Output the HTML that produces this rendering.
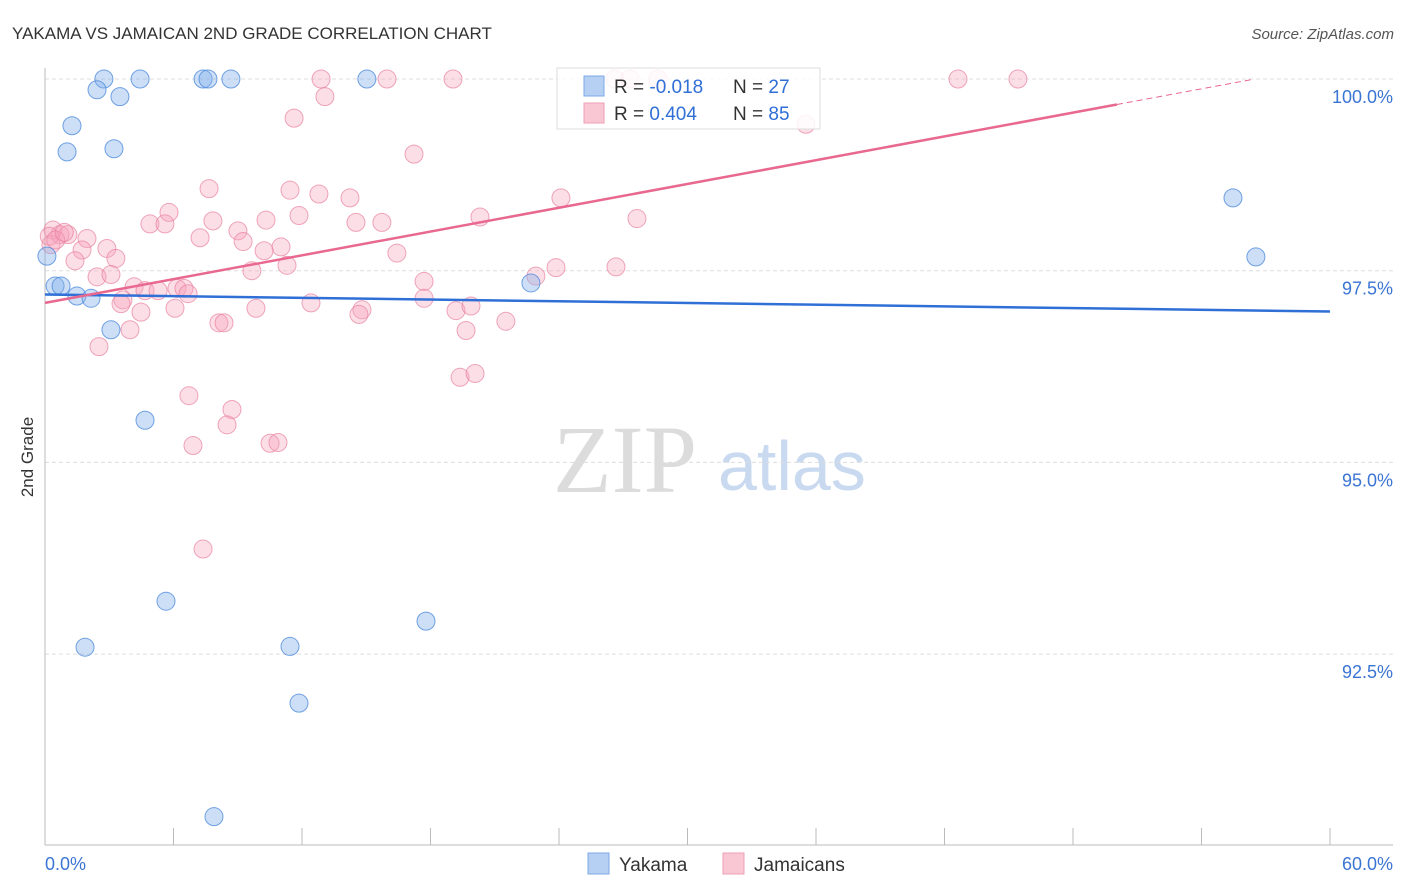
<!DOCTYPE html>
<html><head><meta charset="utf-8"><style>
body{margin:0;background:#fff;font-family:"Liberation Sans",sans-serif;}
#wrap{position:relative;width:1406px;height:892px;overflow:hidden;}
</style></head><body>
<div id="wrap">
<svg id="chart" width="1406" height="892" xmlns="http://www.w3.org/2000/svg">
<text x="12" y="39" font-size="17" fill="#333">YAKAMA VS JAMAICAN 2ND GRADE CORRELATION CHART</text>
<text x="1394" y="39" font-size="15" fill="#555" font-style="italic" text-anchor="end">Source: ZipAtlas.com</text>
<text x="33" y="457" font-size="17" fill="#333" text-anchor="middle" transform="rotate(-90 33 457)">2nd Grade</text>
<g>
<text x="553" y="492" font-size="96" font-family="Liberation Serif,serif" fill="#dcdcdc">ZIP</text>
<text x="718" y="490" font-size="70" fill="#c8d9f0">atlas</text>
</g>
<g id="grid"></g><g id="axes"></g><g id="pts"></g><g id="trend"></g>
<g>
<rect x="557" y="68" width="263" height="61" fill="#fff" fill-opacity="0.85" stroke="#ddd"/>
<rect x="584" y="76" width="20" height="20" fill="#b5d0f3" stroke="#7ea9e6"/>
<rect x="584" y="103" width="20" height="20" fill="#f9c6d4" stroke="#ef9fb7"/>
<text x="614" y="93" font-size="19" fill="#333">R = <tspan fill="#2f6fd6">-0.018</tspan></text>
<text x="733" y="93" font-size="19" fill="#333">N = <tspan fill="#2f6fd6">27</tspan></text>
<text x="614" y="120" font-size="19" fill="#333">R = <tspan fill="#2f6fd6"> 0.404</tspan></text>
<text x="733" y="120" font-size="19" fill="#333">N = <tspan fill="#2f6fd6">85</tspan></text>
</g>
<g>
<rect x="588" y="853" width="21" height="21" fill="#b5d0f3" stroke="#7ea9e6"/>
<text x="619" y="871" font-size="19" fill="#333">Yakama</text>
<rect x="723" y="853" width="21" height="21" fill="#f9c6d4" stroke="#ef9fb7"/>
<text x="754" y="871" font-size="19" fill="#333">Jamaicans</text>
</g>
</svg>
</div>
<script>
const yTicks=[100,97.5,95,92.5];
const yTickLabels=["100.0%","97.5%","95.0%","92.5%"];
const xTicks=[0,6,12,18,24,30,36,42,48,54,60];
const xEndLabels=["0.0%","60.0%"];
const yakX=[2.75,4.44,7.38,7.61,8.68,15.03,2.43,3.50,1.26,1.03,3.22,0.09,0.47,0.75,1.49,2.15,3.08,4.67,5.65,1.87,11.44,17.79,11.86,7.89,22.69,55.47,56.54];
const yakY=[100,100,100,100,100,100,99.86,99.77,99.39,99.05,99.09,97.69,97.30,97.30,97.17,97.14,96.73,95.55,93.19,92.59,92.60,92.93,91.86,90.38,97.34,98.45,97.68];
const jamX=[12.89,15.97,19.05,26.61,27.31,28.62,42.63,45.43,13.07,11.63,35.53,17.23,7.66,11.44,12.79,14.24,24.09,5.79,11.86,20.31,27.64,4.90,5.60,7.84,10.32,14.52,15.73,0.37,0.70,1.07,1.96,7.24,9.01,9.25,11.02,0.28,1.73,2.89,10.23,16.43,1.40,3.31,9.66,11.30,2.43,3.08,17.70,22.92,23.86,26.66,4.16,4.67,5.28,6.16,6.49,3.64,3.55,6.68,12.42,9.85,4.48,6.07,14.80,14.66,17.70,19.19,19.89,19.66,21.52,3.97,2.52,8.12,8.36,19.38,20.08,6.72,8.73,8.50,6.91,10.51,10.88,7.38,0.2,0.5,0.9];
const jamY=[100,100,100,100,100,100,100,100,99.77,99.49,99.41,99.02,98.57,98.55,98.50,98.45,98.45,98.26,98.22,98.20,98.18,98.11,98.11,98.15,98.16,98.13,98.13,98.03,97.97,97.97,97.92,97.93,98.02,97.88,97.81,97.84,97.77,97.79,97.76,97.73,97.63,97.66,97.50,97.57,97.42,97.45,97.36,97.43,97.54,97.55,97.29,97.24,97.24,97.27,97.27,97.12,97.07,97.20,97.08,97.01,96.96,97.01,96.99,96.93,97.14,96.98,97.04,96.72,96.84,96.73,96.51,96.82,96.82,96.11,96.16,95.87,95.69,95.49,95.22,95.25,95.26,93.87,97.95,97.9,98.0];
const yakTrend=[97.19,-0.0037];
const jamTrend=[97.08,0.0517];
const jamSolidEnd=50.05;

const NS="http://www.w3.org/2000/svg";
const X0=45,X1=1330,Ytop=79;
function sx(v){return X0+v/60*(X1-X0);}
function sy(v){return Ytop+(100-v)/2.5*191.7;}
function mk(tag,attrs,parent){const e=document.createElementNS(NS,tag);for(const k in attrs)e.setAttribute(k,attrs[k]);parent.appendChild(e);return e;}
const grid=document.getElementById('grid'),axes=document.getElementById('axes'),pts=document.getElementById('pts'),trend=document.getElementById('trend');
yTicks.forEach((t,i)=>{
 const l=mk('line',{x1:X0,x2:1393,y1:sy(t),y2:sy(t),stroke:'#ddd','stroke-dasharray':'4,3'},grid);
 
 
 const tx=mk('text',{x:1393,y:sy(t)+24,'font-size':18,fill:'#3b75d4','text-anchor':'end'},axes);
 tx.textContent=yTickLabels[i];
 
 
});
const ax=mk('line',{x1:X0,x2:X0,y1:68,y2:845,stroke:'#bbb'},axes);


const bx=mk('line',{x1:X0,x2:1393,y1:845,y2:845,stroke:'#bbb'},axes);


xTicks.forEach(t=>{
 const l=mk('line',{x1:sx(t),x2:sx(t),y1:828,y2:845,stroke:'#bbb'},axes);
 
 
});
const xl0=mk('text',{x:45,y:870,'font-size':18,fill:'#3b75d4'},axes);xl0.textContent=xEndLabels[0];


const xl1=mk('text',{x:1393,y:870,'font-size':18,fill:'#3b75d4','text-anchor':'end'},axes);xl1.textContent=xEndLabels[1];


jamX.forEach((x,i)=>{
 const c=mk('circle',{cx:sx(x),cy:sy(jamY[i]),r:9,fill:'rgba(245,160,186,0.35)',stroke:'rgba(232,130,160,0.7)','stroke-width':1},pts);
 
 
});
yakX.forEach((x,i)=>{
 const c=mk('circle',{cx:sx(x),cy:sy(yakY[i]),r:9,fill:'rgba(130,175,235,0.4)',stroke:'rgba(80,140,220,0.8)','stroke-width':1},pts);
 
 
});
const bl=mk('line',{x1:sx(0),y1:sy(yakTrend[0]),x2:sx(60),y2:sy(yakTrend[0]+yakTrend[1]*60),stroke:'#2f6fd6','stroke-width':2.5},trend);


const pl=mk('line',{x1:sx(0),y1:sy(jamTrend[0]),x2:sx(jamSolidEnd),y2:sy(jamTrend[0]+jamTrend[1]*jamSolidEnd),stroke:'#e8688f','stroke-width':2.5},trend);


const xe=(100-jamTrend[0])/jamTrend[1];
const pd=mk('line',{x1:sx(jamSolidEnd),y1:sy(jamTrend[0]+jamTrend[1]*jamSolidEnd),x2:sx(xe),y2:sy(100),stroke:'#e8688f','stroke-width':1,'stroke-dasharray':'6,4'},trend);


</script>
</body></html>
